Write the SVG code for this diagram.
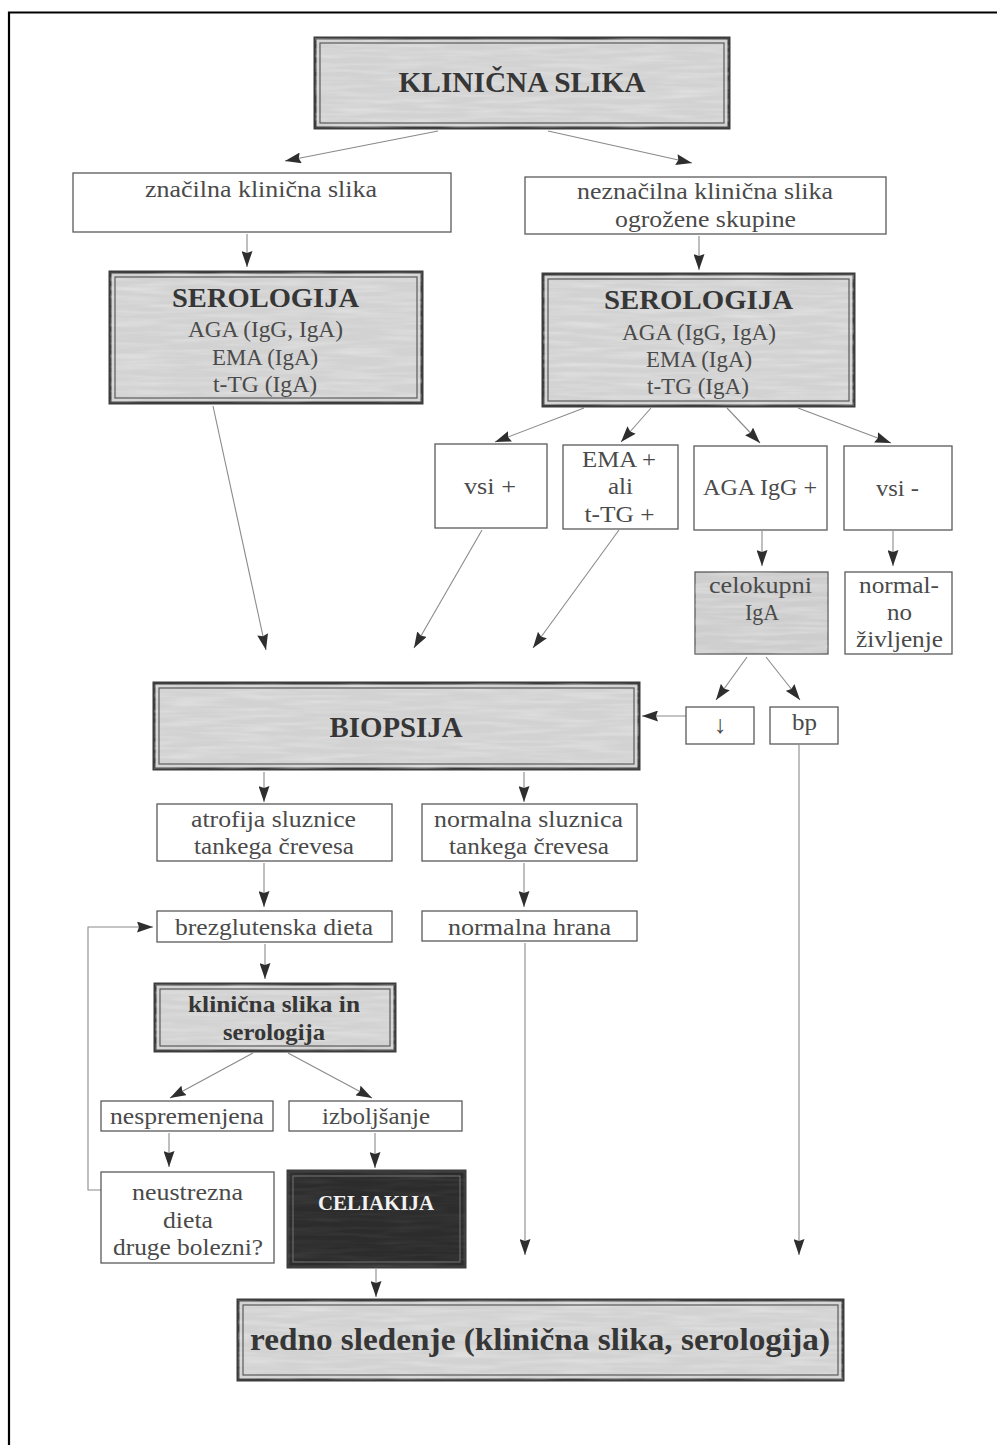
<svg xmlns="http://www.w3.org/2000/svg" width="997" height="1445" viewBox="0 0 997 1445">
<style>
.t{font-family:"Liberation Serif","Times New Roman","DejaVu Serif",serif;font-size:24px;fill:#4a4a4a;text-anchor:middle}
.b{font-weight:bold;fill:#363636}
.pl{fill:#ffffff;stroke:#5a5a5a;stroke-width:1.3}
.go{fill:#d2d2d2;stroke:#3c3c3c;stroke-width:3}
.gi{fill:none;stroke:#5a5a5a;stroke-width:1.2}
.gs{fill:#cdcdcd;stroke:#5a5a5a;stroke-width:1.3}
.dk{fill:#2c2c2c;stroke:#3c3c3c;stroke-width:3}
.tex{fill:#000;filter:url(#streak);opacity:0.35}
.c{fill:none;stroke:#8a8a8a;stroke-width:1.1;marker-end:url(#ah)}
</style>
<defs>
<filter id="streak" x="0" y="0" width="100%" height="100%">
<feTurbulence type="fractalNoise" baseFrequency="0.018 0.22" numOctaves="2" seed="7" result="n"/>
<feColorMatrix in="n" type="matrix" values="0 0 0 0 1  0 0 0 0 1  0 0 0 0 1  1.8 0 0 0 -0.7" result="w"/>
<feComposite in="w" in2="SourceGraphic" operator="in"/>
</filter>
<marker id="ah" viewBox="0 0 16 11" refX="16" refY="5.5" markerWidth="16" markerHeight="11" orient="auto" markerUnits="userSpaceOnUse">
<path d="M0,0 L16,5.5 L0,11 L2,5.5 z" fill="#2e2e2e"/>
</marker>
</defs>
<rect width="997" height="1445" fill="#ffffff"/>
<path d="M9,1445 L9,12.5 L997,12.5" fill="none" stroke="#000" stroke-width="2.2"/>

<g id="connectors">
<path class="c" d="M438,131 L285,161"/>
<path class="c" d="M548,131 L692,163"/>
<path class="c" d="M247,234 L247,267"/>
<path class="c" d="M699,236 L699,270"/>
<path class="c" d="M213,406 L266,650"/>
<path class="c" d="M584,408 L495,442"/>
<path class="c" d="M651,408 L621,442"/>
<path class="c" d="M727,408 L760,443"/>
<path class="c" d="M798,408 L891,443"/>
<path class="c" d="M482,530 L414,648"/>
<path class="c" d="M619,530 L533,648"/>
<path class="c" d="M762,531 L762,566"/>
<path class="c" d="M893,531 L893,566"/>
<path class="c" d="M747,657 L716,700"/>
<path class="c" d="M766,657 L800,700"/>
<path class="c" d="M686,716 L642,716"/>
<path class="c" d="M799,745 L799,1255"/>
<path class="c" d="M264,772 L264,802"/>
<path class="c" d="M524,772 L524,802"/>
<path class="c" d="M264,863 L264,907"/>
<path class="c" d="M524,863 L524,907"/>
<path class="c" d="M265,944 L265,979"/>
<path class="c" d="M525,943 L525,1255"/>
<path class="c" d="M253,1053 L170,1098"/>
<path class="c" d="M288,1053 L372,1098"/>
<path class="c" d="M169,1133 L169,1167"/>
<path class="c" d="M375,1133 L375,1168"/>
<path class="c" d="M376,1269 L376,1297"/>
<path class="c" d="M101,1190 L88,1190 L88,927 L153,927"/>
</g>

<g id="klinicna-slika">
<rect class="go" x="315" y="38" width="414" height="90"/>
<rect class="tex" x="315" y="38" width="414" height="90"/>
<rect class="gi" x="320" y="43" width="404" height="80"/>
<text class="t b" x="522" y="92" style="font-size:30px" textLength="247" lengthAdjust="spacingAndGlyphs">KLINIČNA SLIKA</text>
</g>

<g id="znacilna">
<rect class="pl" x="73" y="173" width="378" height="59"/>
<text class="t" x="261" y="197" textLength="232" lengthAdjust="spacingAndGlyphs">značilna klinična slika</text>
</g>

<g id="neznacilna">
<rect class="pl" x="525" y="177" width="361" height="57"/>
<text class="t" x="705" y="199" textLength="256" lengthAdjust="spacingAndGlyphs">neznačilna klinična slika</text>
<text class="t" x="705.5" y="227" textLength="181" lengthAdjust="spacingAndGlyphs">ogrožene skupine</text>
</g>

<g id="serologija-l">
<rect class="go" x="110" y="272" width="312" height="131"/>
<rect class="tex" x="110" y="272" width="312" height="131"/>
<rect class="gi" x="115" y="277" width="302" height="121"/>
<text class="t b" x="265.5" y="307" style="font-size:28px" textLength="187" lengthAdjust="spacingAndGlyphs">SEROLOGIJA</text>
<text class="t" x="265.5" y="337" textLength="155" lengthAdjust="spacingAndGlyphs">AGA (IgG, IgA)</text>
<text class="t" x="265" y="365" textLength="106" lengthAdjust="spacingAndGlyphs">EMA (IgA)</text>
<text class="t" x="265" y="392" textLength="104" lengthAdjust="spacingAndGlyphs">t-TG (IgA)</text>
</g>

<g id="serologija-r">
<rect class="go" x="543" y="274" width="311" height="132"/>
<rect class="tex" x="543" y="274" width="311" height="132"/>
<rect class="gi" x="548" y="279" width="301" height="122"/>
<text class="t b" x="698.5" y="309" style="font-size:28px" textLength="189" lengthAdjust="spacingAndGlyphs">SEROLOGIJA</text>
<text class="t" x="699" y="340" textLength="154" lengthAdjust="spacingAndGlyphs">AGA (IgG, IgA)</text>
<text class="t" x="699" y="367" textLength="106" lengthAdjust="spacingAndGlyphs">EMA (IgA)</text>
<text class="t" x="698" y="394" textLength="102" lengthAdjust="spacingAndGlyphs">t-TG (IgA)</text>
</g>

<g id="vsi-plus">
<rect class="pl" x="435" y="444" width="112" height="84"/>
<text class="t" x="490" y="494" textLength="52" lengthAdjust="spacingAndGlyphs">vsi +</text>
</g>

<g id="ema-ali-ttg">
<rect class="pl" x="563" y="445" width="115" height="84"/>
<text class="t" x="619" y="467" textLength="74" lengthAdjust="spacingAndGlyphs">EMA +</text>
<text class="t" x="620.5" y="494" textLength="25" lengthAdjust="spacingAndGlyphs">ali</text>
<text class="t" x="619.5" y="522" textLength="70" lengthAdjust="spacingAndGlyphs">t-TG +</text>
</g>

<g id="aga-igg">
<rect class="pl" x="694" y="446" width="133" height="84"/>
<text class="t" x="760" y="495" textLength="114" lengthAdjust="spacingAndGlyphs">AGA IgG +</text>
</g>

<g id="vsi-minus">
<rect class="pl" x="844" y="446" width="108" height="84"/>
<text class="t" x="897.5" y="496" textLength="43" lengthAdjust="spacingAndGlyphs">vsi -</text>
</g>

<g id="celokupni-iga">
<rect class="gs" x="695" y="572" width="133" height="82"/>
<rect class="tex" x="695" y="572" width="133" height="82"/>
<text class="t" x="760.5" y="593" textLength="103" lengthAdjust="spacingAndGlyphs">celokupni</text>
<text class="t" x="762" y="620" textLength="34" lengthAdjust="spacingAndGlyphs">IgA</text>
</g>

<g id="normalno-zivljenje">
<rect class="pl" x="845" y="572" width="107" height="82"/>
<text class="t" x="899" y="593" textLength="80" lengthAdjust="spacingAndGlyphs">normal-</text>
<text class="t" x="899.5" y="620" textLength="25" lengthAdjust="spacingAndGlyphs">no</text>
<text class="t" x="899.5" y="647" textLength="87" lengthAdjust="spacingAndGlyphs">življenje</text>
</g>

<g id="znizan">
<rect class="pl" x="686" y="707" width="68" height="37"/>
<text class="t" x="720" y="733" style="font-size:25px">↓</text>
</g>

<g id="bp">
<rect class="pl" x="770" y="707" width="68" height="37"/>
<text class="t" x="804.5" y="730" textLength="25" lengthAdjust="spacingAndGlyphs">bp</text>
</g>

<g id="biopsija">
<rect class="go" x="154" y="683" width="485" height="86"/>
<rect class="tex" x="154" y="683" width="485" height="86"/>
<rect class="gi" x="159" y="688" width="475" height="76"/>
<text class="t b" x="396" y="737" style="font-size:29px" textLength="133" lengthAdjust="spacingAndGlyphs">BIOPSIJA</text>
</g>

<g id="atrofija">
<rect class="pl" x="157" y="804" width="235" height="57"/>
<text class="t" x="273.5" y="827" textLength="165" lengthAdjust="spacingAndGlyphs">atrofija sluznice</text>
<text class="t" x="274" y="854" textLength="160" lengthAdjust="spacingAndGlyphs">tankega črevesa</text>
</g>

<g id="normalna-sluznica">
<rect class="pl" x="422" y="804" width="215" height="57"/>
<text class="t" x="528.5" y="827" textLength="189" lengthAdjust="spacingAndGlyphs">normalna sluznica</text>
<text class="t" x="529" y="854" textLength="160" lengthAdjust="spacingAndGlyphs">tankega črevesa</text>
</g>

<g id="brezglutenska">
<rect class="pl" x="157" y="911" width="235" height="31"/>
<text class="t" x="274" y="935" textLength="198" lengthAdjust="spacingAndGlyphs">brezglutenska dieta</text>
</g>

<g id="normalna-hrana">
<rect class="pl" x="422" y="911" width="215" height="30"/>
<text class="t" x="529.5" y="935" textLength="163" lengthAdjust="spacingAndGlyphs">normalna hrana</text>
</g>

<g id="klinicna-serologija">
<rect class="go" x="155" y="984" width="240" height="67"/>
<rect class="tex" x="155" y="984" width="240" height="67"/>
<rect class="gi" x="160" y="989" width="230" height="57"/>
<text class="t b" x="274" y="1012" style="font-size:23px" textLength="172" lengthAdjust="spacingAndGlyphs">klinična slika in</text>
<text class="t b" x="274" y="1040" style="font-size:23px" textLength="102" lengthAdjust="spacingAndGlyphs">serologija</text>
</g>

<g id="nespremenjena">
<rect class="pl" x="101" y="1101" width="172" height="30"/>
<text class="t" x="187" y="1124" textLength="154" lengthAdjust="spacingAndGlyphs">nespremenjena</text>
</g>

<g id="izboljsanje">
<rect class="pl" x="289" y="1101" width="173" height="30"/>
<text class="t" x="376" y="1124" textLength="108" lengthAdjust="spacingAndGlyphs">izboljšanje</text>
</g>

<g id="neustrezna">
<rect class="pl" x="101" y="1172" width="173" height="91"/>
<text class="t" x="187.5" y="1200" textLength="111" lengthAdjust="spacingAndGlyphs">neustrezna</text>
<text class="t" x="188" y="1228" textLength="50" lengthAdjust="spacingAndGlyphs">dieta</text>
<text class="t" x="188" y="1255" textLength="150" lengthAdjust="spacingAndGlyphs">druge bolezni?</text>
</g>

<g id="celiakija">
<rect class="dk" x="288" y="1171" width="177" height="96"/>
<rect class="tex" x="288" y="1171" width="177" height="96" style="opacity:0.08"/>
<rect class="gi" x="293" y="1176" width="167" height="86" style="stroke:#6a6a6a"/>
<text class="t b" x="376" y="1210" style="font-size:21px;fill:#f2f2f2" textLength="116" lengthAdjust="spacingAndGlyphs">CELIAKIJA</text>
</g>

<g id="redno-sledenje">
<rect class="go" x="238" y="1300" width="605" height="80"/>
<rect class="tex" x="238" y="1300" width="605" height="80"/>
<rect class="gi" x="243" y="1305" width="595" height="70"/>
<text class="t b" x="540" y="1350" style="font-size:31px" textLength="580" lengthAdjust="spacingAndGlyphs">redno sledenje (klinična slika, serologija)</text>
</g>
</svg>
